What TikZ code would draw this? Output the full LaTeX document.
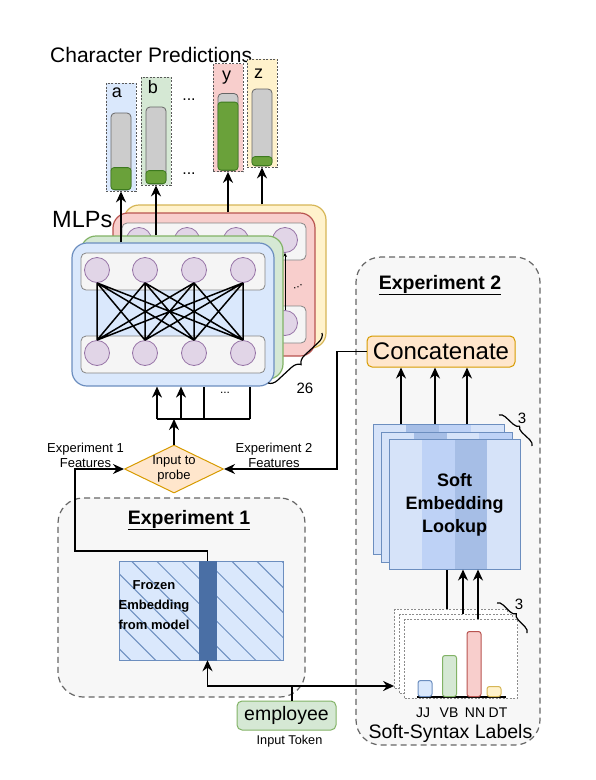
\documentclass[tikz,border=0pt]{standalone}
\usepackage{fontspec}
\setmainfont{Liberation Sans}
\usetikzlibrary{arrows.meta, shapes.geometric, patterns.meta, decorations.pathreplacing}

\definecolor{blufill}{HTML}{DAE8FC}
\definecolor{blueline}{HTML}{6C8EBF}
\definecolor{grnfill}{HTML}{D5E8D4}
\definecolor{grnline}{HTML}{82B366}
\definecolor{redfill}{HTML}{F8CECC}
\definecolor{redline}{HTML}{B85450}
\definecolor{yelfill}{HTML}{FFF2CC}
\definecolor{yelline}{HTML}{D6B656}
\definecolor{orgfill}{HTML}{FFE6CC}
\definecolor{orgline}{HTML}{D79B00}
\definecolor{purfill}{HTML}{E1D5E7}
\definecolor{purline}{HTML}{9673A6}
\definecolor{rowfill}{HTML}{F5F5F5}
\definecolor{rowline}{HTML}{666666}
\definecolor{areafill}{HTML}{F7F7F7}
\definecolor{barfill}{HTML}{CCCCCC}
\definecolor{levelfill}{HTML}{6AA13A}
\definecolor{levelline}{HTML}{3D7A1F}
\definecolor{colfill}{HTML}{4A6FA5}
\definecolor{stripeL}{HTML}{D6E3F9}
\definecolor{stripeM}{HTML}{BED2F6}
\definecolor{stripeD}{HTML}{A6BEE6}

\begin{document}
\begin{tikzpicture}[x=1pt, y=-1pt, >={Stealth[length=11pt, width=10pt]},
    txt/.style 2 args={inner sep=0pt, font=\fontsize{#1}{#2}\selectfont},
    boldtxt/.style 2 args={inner sep=0pt, font=\fontsize{#1}{#2}\selectfont\bfseries},
    exparea/.style={draw=rowline, fill=areafill, rounded corners=25pt, line width=1.2pt, dash pattern=on 6pt off 4pt, inner sep=0pt},
    predbox/.style={draw=black!65, line width=0.8pt, dash pattern=on 2pt off 1.5pt, minimum width=30pt, minimum height=108pt, inner sep=0pt},
    gauge/.style={draw=rowline, fill=barfill, line width=0.8pt, rounded corners=4pt, minimum width=20pt, minimum height=77pt, inner sep=0pt},
    fillbar/.style={draw=levelline, fill=levelfill, line width=0.8pt, rounded corners=3pt, minimum width=20pt, inner sep=0pt, anchor=south},
    mlplayer/.style={line width=1.2pt, rounded corners=15pt, minimum width=202pt, minimum height=143pt, inner sep=0pt},
    nnrow/.style={draw=rowline!80, fill=rowfill, line width=0.8pt, rounded corners=5pt, minimum width=184pt, minimum height=37pt, inner sep=0pt},
    neuron/.style={circle, draw=purline, fill=purfill, line width=0.8pt, minimum size=25pt, inner sep=0pt},
    wire/.style={line width=1.5pt},
    sheet/.style={draw=blueline, line width=1pt, minimum width=131pt, minimum height=130pt, inner sep=0pt},
    posbox/.style={draw=black!45, fill=white, line width=0.8pt, dash pattern=on 2pt off 1.5pt, minimum width=113pt, minimum height=79pt, inner sep=0pt},
    pbar/.style={line width=1pt, rounded corners=2.5pt, minimum width=14pt, inner sep=0pt, anchor=south},
    countbrace/.style={decorate, decoration={brace, amplitude=7pt}, line width=1.2pt}]
        \useasboundingbox (0,0) rectangle (596,780);

        % experiment areas
        \node[exparea, minimum width=247pt, minimum height=199pt] (exp1) at (181.5,597.5) {};
        \node[exparea, minimum width=184pt, minimum height=488pt] (exp2) at (448,501) {};

        % character predictions
        \node[txt={21pt}{25pt}, anchor=base west] (predlbl) at (50,62) {Character Predictions};
        \node[predbox, fill=blufill] (pa) at (121,137) {};
        \node[gauge] (pagauge) at (121,151.5) {};
        \node[fillbar, minimum height=22pt] (pafill) at (121,190) {};
        \node[txt={18pt}{18pt}, anchor=base] (palbl) at (117,97) {a};
        \node[predbox, fill=grnfill] (pb) at (156,131) {};
        \node[gauge] (pbgauge) at (156,145.5) {};
        \node[fillbar, minimum height=13pt] (pbfill) at (156,184) {};
        \node[txt={18pt}{18pt}, anchor=base] (pblbl) at (153,93) {b};
        \node[predbox, fill=redfill] (py) at (228,117.5) {};
        \node[gauge] (pygauge) at (228,132) {};
        \node[fillbar, minimum height=68pt] (pyfill) at (228,170.5) {};
        \node[txt={18pt}{18pt}, anchor=base] (pylbl) at (226.5,80) {y};
        \node[predbox, fill=yelfill] (pz) at (262,113) {};
        \node[gauge] (pzgauge) at (262,127.5) {};
        \node[fillbar, minimum height=9pt] (pzfill) at (262,166) {};
        \node[txt={18pt}{18pt}, anchor=base] (pzlbl) at (258.5,78) {z};
        \node[txt={16pt}{16pt}, anchor=base] (preddots1) at (189,100) {...};
        \node[txt={16pt}{16pt}, anchor=base] (preddots2) at (189,174) {...};

        % MLP stack
        \node[txt={23.5pt}{25pt}, anchor=base west] (mlplbl) at (52,227) {MLPs};
        \node[mlplayer, draw=yelline, fill=yelfill] (yel) at (225,276.5) {};
        \node[mlplayer, draw=redline, fill=redfill] (red) at (214,284.5) {};
        \node[nnrow] (rtop) at (214,241.5) {};
        \node[nnrow] (rbot) at (214,324.5) {};
        \node[neuron] (rt1) at (139,240) {};
        \node[neuron] (rt2) at (187,240) {};
        \node[neuron] (rt3) at (236,240) {};
        \node[neuron] (rt4) at (285,240) {};
        \node[neuron] (rb4) at (285,323) {};
        \draw[->, >={Stealth[length=4pt, width=4pt]}, line width=1pt] (rb4.north) -- (rt4.south);
        \node[txt={12pt}{12pt}, rotate=25] (reddots) at (298,287) {...};
        \node[mlplayer, draw=grnline, fill=grnfill] (grn) at (182,307.5) {};
        \node[mlplayer, draw=blueline, fill=blufill] (blu) at (173,314.5) {};
        \node[nnrow] (btop) at (173,271.5) {};
        \node[nnrow] (bbot) at (173,354.5) {};
        \node[neuron] (bt1) at (97,270) {};
        \node[neuron] (bt2) at (145,270) {};
        \node[neuron] (bt3) at (194,270) {};
        \node[neuron] (bt4) at (243,270) {};
        \node[neuron] (bb1) at (97,353) {};
        \node[neuron] (bb2) at (145,353) {};
        \node[neuron] (bb3) at (194,353) {};
        \node[neuron] (bb4) at (243,353) {};
        \draw[wire] (bt1.south) -- (bb1.north) (bt1.south) -- (bb2.north)
                    (bt1.south) -- (bb3.north) (bt1.south) -- (bb4.north)
                    (bt2.south) -- (bb1.north) (bt2.south) -- (bb2.north)
                    (bt2.south) -- (bb3.north) (bt2.south) -- (bb4.north)
                    (bt3.south) -- (bb1.north) (bt3.south) -- (bb2.north)
                    (bt3.south) -- (bb3.north) (bt3.south) -- (bb4.north)
                    (bt4.south) -- (bb1.north) (bt4.south) -- (bb2.north)
                    (bt4.south) -- (bb3.north) (bt4.south) -- (bb4.north);
        \draw[->, wire] (blu.north -| pa.south) -- (pa.south);
        \draw[->, wire] (grn.north -| pb.south) -- (pb.south);
        \draw[->, wire] (red.north -| py.south) -- (py.south);
        \draw[->, wire] (yel.north -| pz.south) -- (pz.south);
        \coordinate (br26a) at (322,333);
        \coordinate (br26b) at (268,383);
        \draw[countbrace, decoration={brace, amplitude=9pt}] (br26a) -- (br26b);
        \node[txt={15pt}{15pt}] (cnt26) at (305,388) {26};

        % inputs of the MLPs
        \coordinate (fan1) at (157,419);
        \coordinate (fan2) at (181,419);
        \coordinate (fan3) at (204,419);
        \coordinate (fan4) at (250,419);
        \draw[wire] (fan1) -- (fan4);
        \draw[->, wire] (fan1) -- (fan1 |- blu.south);
        \draw[->, wire] (fan2) -- (fan2 |- blu.south);
        \draw[wire] (fan3) -- (fan3 |- blu.south);
        \draw[wire] (fan4) -- (fan4 |- blu.south);
        \node[txt={12pt}{12pt}] (fandots) at (225,393) {...};
        \node[diamond, draw=orgline, fill=orgfill, line width=1pt, shape aspect=2.06, inner sep=0pt,
              minimum width=99pt, minimum height=48pt, align=center, font=\fontsize{13pt}{15pt}\selectfont]
              (probe) at (174,469) {Input to\\probe};
        \draw[->, wire] (probe.north) -- (probe.north |- fan1);
        \node[txt={13pt}{15pt}, align=center] (feat1) at (85.5,455.5) {Experiment 1\\Features};
        \node[txt={13pt}{15pt}, align=center] (feat2) at (274,455.5) {Experiment 2\\Features};

        % experiment 1
        \node[boldtxt={19.5pt}{22pt}, anchor=base] (exp1lbl) at (189,524) {\underline{Experiment 1}};
        \node[draw=blueline, line width=1pt, preaction={fill=blufill},
              pattern={Lines[angle=-45, distance=17.7pt, line width=1pt]}, pattern color=blueline,
              minimum width=164pt, minimum height=99pt, inner sep=0pt] (emb) at (201,610.5) {};
        \node[draw=colfill, fill=colfill, minimum width=17pt, minimum height=99pt, inner sep=0pt] (col) at (207.5,610.5) {};
        \node[boldtxt={13pt}{20pt}, align=center] (embtxt) at (154,605) {Frozen\\Embedding\\from model};
        \coordinate (e1turn) at (75,551);
        \draw[->, wire] (col.north) |- (e1turn) |- (probe.west);

        % experiment 2
        \node[boldtxt={19.5pt}{22pt}, anchor=base] (exp2lbl) at (440,289) {\underline{Experiment 2}};
        \node[draw=orgline, fill=orgfill, line width=1pt, rounded corners=5pt, minimum width=148pt,
              minimum height=31pt, inner sep=0pt, font=\fontsize{24pt}{26pt}\selectfont] (concat) at (441,351.5) {Concatenate};
        \coordinate (e2turn) at (337,469);
        \draw[->, wire] (concat.west) -| (e2turn) -- (probe.east);

        \node[posbox] (ss1) at (451,648.5) {};
        \node[posbox] (ss2) at (456,653.5) {};
        \node[posbox] (ss3) at (461,658.5) {};
        \draw[line width=2pt] (417,697) -- (506,697);
        \node[pbar, draw=blueline, fill=blufill, minimum height=16pt] (jj) at (425,697) {};
        \node[pbar, draw=grnline, fill=grnfill, minimum height=41pt] (vb) at (449.5,697) {};
        \node[pbar, draw=redline, fill=redfill, minimum height=65pt] (nn) at (474,697) {};
        \node[pbar, draw=yelline, fill=yelfill, minimum height=10pt] (dt) at (494,697) {};
        \node[txt={14pt}{14pt}] (jjl) at (423,713) {JJ};
        \node[txt={14pt}{14pt}] (vbl) at (449,713) {VB};
        \node[txt={14pt}{14pt}] (nnl) at (475,713) {NN};
        \node[txt={14pt}{14pt}] (dtl) at (498,713) {DT};
        \node[txt={19.5pt}{22pt}] (sslbl) at (450.5,733) {Soft-Syntax Labels};
        \coordinate (br3a) at (497,603);
        \coordinate (br3b) at (527,633);
        \draw[countbrace, decoration={brace, amplitude=6pt}] (br3a) -- (br3b);
        \node[txt={15pt}{15pt}] (cnt3b) at (519,604) {3};

        \coordinate (dn1) at (447,0);
        \coordinate (dn2) at (463,0);
        \coordinate (dn3) at (478,0);
        \draw[wire] (ss1.north -| dn1) -- (dn1 |- 0,554);

        % soft embedding sheets
        \fill[stripeL] (373,424) rectangle (405.75,554);
        \fill[stripeD] (405.75,424) rectangle (438.5,554);
        \fill[stripeM] (438.5,424) rectangle (471.25,554);
        \fill[stripeL] (471.25,424) rectangle (504,554);
        \node[sheet] (se1) at (438.5,489) {};
        \fill[stripeL] (381,432) rectangle (413.75,562);
        \fill[stripeD] (413.75,432) rectangle (446.5,562);
        \fill[stripeL] (446.5,432) rectangle (479.25,562);
        \fill[stripeM] (479.25,432) rectangle (512,562);
        \node[sheet] (se2) at (446.5,497) {};
        \fill[stripeL] (389,439) rectangle (421.75,569);
        \fill[stripeM] (421.75,439) rectangle (454.5,569);
        \fill[stripeD] (454.5,439) rectangle (487.25,569);
        \fill[stripeL] (487.25,439) rectangle (520,569);
        \node[sheet] (se3) at (454.5,504) {};
        \node[boldtxt={18pt}{23pt}, align=center] (setxt) at (454.5,505) {Soft\\Embedding\\Lookup};
        \draw[->, wire] (ss2.north -| dn2) -- (se3.south -| dn2);
        \draw[->, wire] (ss3.north -| dn3) -- (se3.south -| dn3);
        \coordinate (br3c) at (499,415);
        \coordinate (br3d) at (532,446);
        \draw[countbrace, decoration={brace, amplitude=6pt}] (br3c) -- (br3d);
        \node[txt={15pt}{15pt}] (cnt3a) at (522,418) {3};

        \coordinate (up1) at (401,0);
        \coordinate (up2) at (435,0);
        \coordinate (up3) at (467,0);
        \draw[->, wire] (se1.north -| up1) -- (concat.south -| up1);
        \draw[->, wire] (se1.north -| up2) -- (concat.south -| up2);
        \draw[->, wire] (se1.north -| up3) -- (concat.south -| up3);

        % input token
        \node[draw=grnline, fill=grnfill, line width=1pt, rounded corners=5pt, minimum width=99pt,
              minimum height=29pt, inner sep=0pt, font=\fontsize{19.5pt}{22pt}\selectfont] (emp) at (286.5,715.5) {employee};
        \node[txt={12.7pt}{15pt}] (emplbl) at (289.5,741) {Input Token};
        \coordinate (tok) at (292,686);
        \draw[wire] (emp.north -| tok) -- (tok);
        \draw[->, wire] (tok) -| (col.south);
        \draw[->, wire] (tok) -- (tok -| ss1.west);
      \end{tikzpicture}
\end{document}
